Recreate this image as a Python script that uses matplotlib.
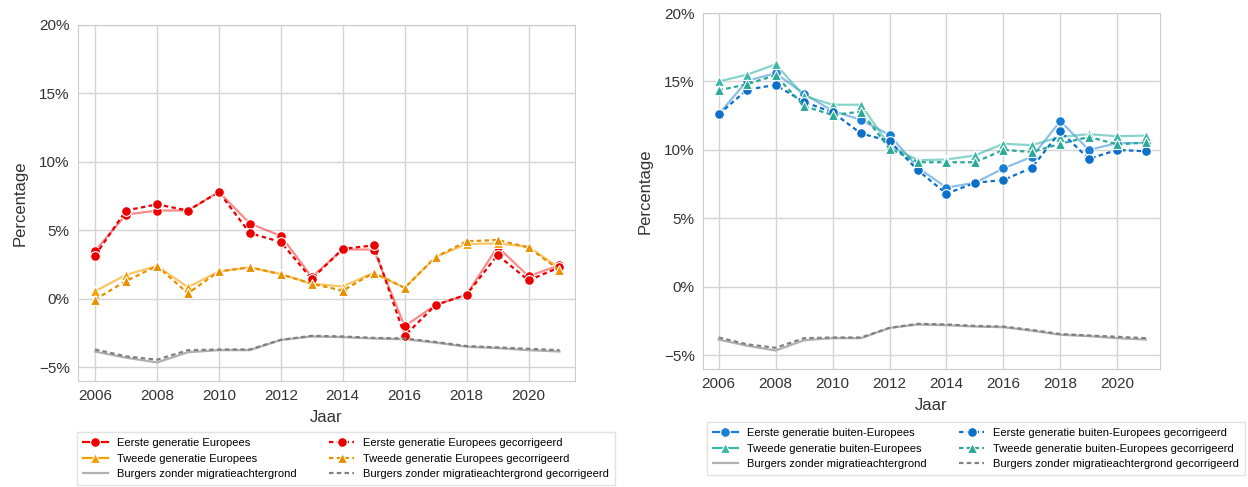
import matplotlib.pyplot as plt
from matplotlib.ticker import FuncFormatter

plt.rcParams['font.family'] = ['Liberation Sans', 'DejaVu Sans']

jaren = list(range(2006, 2022))

# Linker grafiek: Europees
eerste_eu = [3.5, 6.15, 6.45, 6.45, 7.8, 5.5, 4.6, 1.6, 3.6, 3.6, -2.0, -0.45, 0.3, 3.8, 1.65, 2.45]
eerste_eu_corr = [3.15, 6.45, 6.9, 6.45, 7.8, 4.8, 4.15, 1.45, 3.65, 3.9, -2.7, -0.45, 0.3, 3.2, 1.35, 2.3]
tweede_eu = [0.55, 1.75, 2.4, 0.85, 2.0, 2.3, 1.8, 1.1, 0.9, 1.9, 0.8, 3.05, 4.0, 4.05, 3.8, 2.25]
tweede_eu_corr = [-0.05, 1.3, 2.4, 0.4, 2.0, 2.3, 1.8, 1.1, 0.6, 1.9, 0.8, 3.05, 4.2, 4.3, 3.75, 2.1]

# Rechter grafiek: buiten-Europees
eerste_bu = [12.6, 15.05, 15.6, 14.1, 12.85, 12.2, 11.1, 8.7, 7.25, 7.6, 8.65, 9.5, 12.1, 10.0, 10.5, 10.5]
eerste_bu_corr = [12.6, 14.4, 14.75, 13.5, 12.75, 11.2, 10.65, 8.5, 6.8, 7.6, 7.8, 8.7, 11.35, 9.35, 10.0, 9.9]
tweede_bu = [15.0, 15.5, 16.25, 13.95, 13.3, 13.3, 10.3, 9.25, 9.3, 9.6, 10.45, 10.35, 10.95, 11.15, 11.0, 11.05]
tweede_bu_corr = [14.35, 14.8, 15.45, 13.2, 12.55, 12.8, 10.1, 9.1, 9.1, 9.1, 10.0, 9.85, 10.45, 10.95, 10.4, 10.55]

# Referentiegroep
burgers = [-3.85, -4.3, -4.65, -3.9, -3.75, -3.75, -3.0, -2.75, -2.8, -2.9, -2.95, -3.2, -3.5, -3.6, -3.75, -3.85]
burgers_corr = [-3.7, -4.2, -4.45, -3.75, -3.7, -3.7, -3.0, -2.7, -2.75, -2.85, -2.9, -3.15, -3.45, -3.55, -3.65, -3.75]

fig = plt.figure(figsize=(12.48, 4.87), dpi=100)
ax1 = fig.add_axes([0.0625, 0.2177, 0.3982, 0.731])
ax2 = fig.add_axes([0.5633, 0.2423, 0.3662, 0.731])


def teken(ax, reeksen):
    for y, label, kleur, marker, ls, alpha in reeksen:
        ax.plot(jaren, y, color=kleur, linestyle=ls, linewidth=1.6, alpha=alpha)
        if marker:
            ax.plot(jaren, y, color=kleur, linestyle='none', marker=marker, markersize=7,
                    markeredgecolor='white', markeredgewidth=0.8)
    # legend handles met volle marker
    handles = []
    for y, label, kleur, marker, ls, alpha in reeksen:
        h, = ax.plot([], [], color=kleur, linestyle=ls, linewidth=1.6, marker=marker if marker else None,
                     markersize=7, markeredgecolor='white', markeredgewidth=0.8, label=label)
        handles.append(h)
    return handles


def opmaak(ax):
    ax.set_xlim(2005.45, 2021.5)
    ax.set_ylim(-6, 20)
    ax.set_yticks([-5, 0, 5, 10, 15, 20])
    ax.set_xticks(range(2006, 2021, 2))
    ax.yaxis.set_major_formatter(FuncFormatter(lambda v, p: f'{v:.0f}%'.replace('-', '\u2212')))
    ax.grid(True, color='#d4d4d4', linewidth=1)
    ax.set_axisbelow(True)
    for s in ax.spines.values():
        s.set_color('#cccccc')
    ax.tick_params(length=0, labelsize=11, labelcolor='#333333', pad=6)
    ax.set_xlabel('Jaar', fontsize=12, color='#333333', labelpad=5)
    ax.set_ylabel('Percentage', fontsize=12, color='#333333', labelpad=8)


h1 = teken(ax1, [
    (eerste_eu, 'Eerste generatie Europees', '#f00000', 'o', '-', 0.45),
    (tweede_eu, 'Tweede generatie Europees', '#f5a000', '^', '-', 0.6),
    (burgers, 'Burgers zonder migratieachtergrond', '#b0b0b0', None, '-', 1.0),
    (eerste_eu_corr, 'Eerste generatie Europees gecorrigeerd', '#e80000', 'o', (0, (2, 1.5)), 1.0),
    (tweede_eu_corr, 'Tweede generatie Europees gecorrigeerd', '#e89000', '^', (0, (2, 1.5)), 1.0),
    (burgers_corr, 'Burgers zonder migratieachtergrond gecorrigeerd', '#808080', None, (0, (2, 1.5)), 1.0),
])
h2 = teken(ax2, [
    (eerste_bu, 'Eerste generatie buiten-Europees', '#1a7fd4', 'o', '-', 0.5),
    (tweede_bu, 'Tweede generatie buiten-Europees', '#3bb8a8', '^', '-', 0.6),
    (burgers, 'Burgers zonder migratieachtergrond', '#b0b0b0', None, '-', 1.0),
    (eerste_bu_corr, 'Eerste generatie buiten-Europees gecorrigeerd', '#0d6fc8', 'o', (0, (2, 1.5)), 1.0),
    (tweede_bu_corr, 'Tweede generatie buiten-Europees gecorrigeerd', '#2aa898', '^', (0, (2, 1.5)), 1.0),
    (burgers_corr, 'Burgers zonder migratieachtergrond gecorrigeerd', '#808080', None, (0, (2, 1.5)), 1.0),
])

opmaak(ax1)
opmaak(ax2)

for ax, h, anker in [(ax1, h1, (0.2772, 0.0585)), (ax2, h2, (0.782, 0.079))]:
    fig.legend(handles=h, loc='center', bbox_to_anchor=anker, ncol=2, fontsize=8,
               frameon=True, edgecolor='#dddddd', fancybox=False, handlelength=2.2,
               columnspacing=3.0, labelspacing=0.5, borderpad=0.55, handletextpad=0.8)

plt.savefig('out.png', dpi=100)
